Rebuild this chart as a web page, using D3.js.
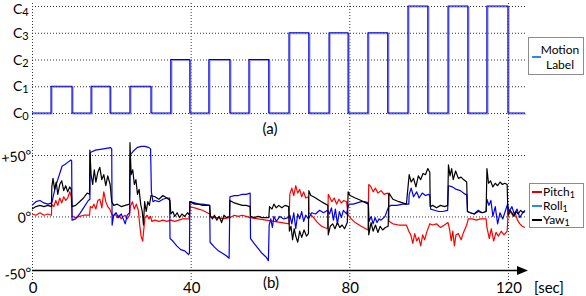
<!DOCTYPE html>
<meta charset="utf-8" />
<style>
  body { margin: 0; background: #fff; }
  svg text { font-family: Lato, "Open Sans", sans-serif; fill: #000; }
  .grid line { stroke: #333; stroke-width: 1; stroke-dasharray: 1,2; }
  .trace { fill: none; stroke-width: 1.2; stroke-linejoin: round; }
  .box { fill: #fff; stroke: #8c8c8c; stroke-width: 1; }
</style>
<svg width="586" height="296"></svg>
<script src="https://d3js.org/d3.v7.min.js"></script>
<script>
  /* global d3 */

  // motion label: step changes (seconds) and level index (C0..C4)
  var labelTimes = [0, 4.8, 10.1, 14.9, 19.7, 24.7, 30.0, 35.0, 39.8, 44.6, 49.9, 54.7, 59.7,
    64.8, 69.8, 74.9, 79.7, 84.7, 89.7, 94.8, 99.8, 104.9, 109.9, 114.7, 120.0, 124.3];
  var labelValues = [0, 1, 0, 1, 0, 1, 0, 2, 0, 2, 0, 2, 0, 3, 0, 3, 0, 3, 0, 4, 0, 4, 0, 4, 0, 0];
  var labelNames = ["0", "1", "2", "3", "4"];

  // IMU angles in degrees, [t, value]
  var pitch = [[0,2],[1,1],[2,3],[3,1],[4,2],[4.9,1],[5,10],[5.5,8],[6,13],[6.5,9],[7,15],[7.5,11],[8,16],[8.5,13],[9,15],[9.5,20],[9.9,16],
    [10.1,0],[11,-1],[12,0],[13,1],[14.5,1],[14.7,8],[15.2,7],[15.6,10],[16.1,6],[16.6,13],[17.1,14],[17.6,7],[18.1,20],[18.6,12],[19.1,8],[19.6,6],
    [20.1,2],[20.5,0],[21,2],[21.5,-1],[22,1],[22.5,-2],[23,0],[23.5,1],[24,-2],[24.6,1],[24.8,8],[25.3,12],[25.8,6],[26.3,10],[26.8,5],[27.2,-8],
    [27.5,-16],[27.9,-20],[28.2,-10],[28.5,-1],[29,1],[29.5,-2],[29.9,0],[30.2,-4],[31,-3],[32,-4],[33,-3],[34,-4],[35,-3],[36,-4],[37,-3],[38,-2],
    [39.7,-2],[39.8,8],[41,7],[42,6],[43,5],[44.8,2],[45,0],[46,-1],[47,-1],[48,-2],[49.9,-1],[51,1],[52,0],[53,1],[54,0],[55,-1],[57,-2],[59,-3],
    [61,-4],[63,-5],[64.8,-6],[65,18],[65.5,23],[66,17],[66.5,25],[67,19],[67.5,22],[68,16],[68.5,20],[69,15],[69.7,16],[69.8,3],[71,-1],[72,-5],
    [73,-8],[74.5,-10],[74.7,18],[75,16],[75.6,12],[76.2,15],[76.8,10],[77.4,14],[78,11],[78.6,13],[79.3,12],[79.7,1],[80.5,-2],[81.5,-5],[83,-8],
    [84.7,-11],[84.9,26],[85.5,24],[86,20],[86.6,23],[87.2,19],[88,21],[88.8,18],[89.6,19],[89.9,18],[90,-4],[91,-6],[92.5,-7],[94.4,-7],[95,-12],
    [95.5,-15],[96,-22],[96.5,-14],[97,-20],[97.5,-17],[98,-24],[98.5,-15],[99,-19],[99.5,-13],[100.3,-6],[101,-7],[102,-6],[103,-9],[104,-7],
    [104.9,-5],[105.3,-11],[105.7,-20],[106.1,-12],[106.5,-24],[106.9,-15],[107.5,-14],[108.2,-19],[108.8,-13],[109.6,-7],[110,-2],[111,-2],[112,-3],
    [113,-2],[114.5,-2],[114.7,-9],[115.3,-18],[115.8,-10],[116.4,-20],[117,-13],[117.6,-16],[118.3,-12],[119,-15],[119.8,-12],[120,0],[120.6,4],
    [121.2,1],[121.8,3],[122.4,-3],[123,-6],[123.6,-8],[124.3,-9]];

  var roll = [[0,9],[1,12],[2,13],[3,11],[4,10],[5,11],[5.4,17],[6,25],[6.6,31],[7.3,38],[7.6,41],[8.2,42],[9,44],[9.8,46],[10,45],[10.1,-3],[11,-2],
    [12,2],[13,7],[14.2,13],[14.6,14],[14.7,52],[16,54],[18,55],[19.8,56],[20.1,55],[20.2,-7],[20.6,1],[21.2,3],[21.8,-1],[22.5,2],[23,-2],[23.5,-6],
    [24,1],[24.6,3],[24.8,50],[25.5,53],[26.5,56],[27.5,57],[28.5,57],[29.5,56],[29.9,55],[30.1,20],[30.5,12],[31,13],[32,12],[33,14],[34,15],
    [34.7,15],[34.8,-18],[35.5,-20],[36.5,-24],[37.5,-27],[38.5,-28],[39.5,-31],[39.7,-30],[39.8,12],[41,11],[42,10],[43,10],[44.8,9],[44.9,-21],
    [46,-25],[47,-28],[48,-30],[49,-32],[49.7,-34],[49.9,16],[51,17],[52,17],[53,18],[54,18],[55,19],[55.1,-18],[56,-22],[57,-26],[58,-30],[59,-33],
    [59.6,-36],[59.8,-7],[60.2,-2],[60.6,-9],[61,0],[61.6,-4],[62.5,0],[63.5,-2],[64.6,-1],[65,1],[65.5,-6],[66,3],[66.5,-10],[67,2],[67.5,-2],[68,4],
    [68.5,-4],[69,1],[69.7,-2],[70.5,3],[71.5,2],[72.5,5],[73.5,3],[74.5,5],[75,2],[75.5,7],[76,-3],[76.5,6],[77,-6],[77.5,4],[78,-1],[78.5,5],
    [79.3,2],[79.7,8],[80,10],[81,10],[82,11],[83,12],[84,12],[84.8,11],[85,-4],[85.5,0],[86,-6],[86.5,-1],[87,-5],[87.5,-2],[88,-3],[89,0],
    [89.9,8],[90.5,9],[92,9],[93.5,10],[95,10],[95.1,18],[95.6,23],[96.2,16],[97,20],[97.6,15],[98.4,19],[99.2,17],[100,18],[100.3,17],[100.5,6],
    [101.5,5],[102.5,4],[103.5,4],[104.8,5],[105,25],[106,24],[107,22],[108,21],[109.2,18],[109.6,18],[109.8,4],[110.5,3],[111.5,2],[112.5,5],
    [113.5,3],[114.5,4],[114.7,14],[115.2,9],[115.7,13],[116.2,0],[116.8,8],[117.4,-6],[118,3],[118.7,-2],[119.4,5],[119.9,10],[120.3,4],[121,8],
    [121.6,2],[122.3,6],[123,-1],[123.7,3],[124.3,5]];

  var yaw = [[0,6],[1,8],[2,9],[3,8],[4,9],[4.9,8],[5,24],[5.3,31],[5.7,22],[6.1,28],[6.5,18],[7,26],[7.5,29],[8,21],[8.5,25],[9,20],[9.5,24],
    [9.9,22],[10.1,8],[11,9],[12,12],[13,15],[13.9,19],[14.5,18],[14.6,54],[14.9,34],[15.3,26],[15.7,38],[16.1,28],[16.6,36],[17.1,40],[17.6,30],
    [18.1,34],[18.6,25],[19.1,33],[19.7,26],[20.1,12],[20.6,9],[21.5,10],[22.5,8],[23.5,9],[24.6,10],[24.7,60],[25,34],[25.4,38],[25.8,26],[26.2,30],
    [26.6,18],[27,22],[27.4,10],[27.8,4],[28.1,-7],[28.4,12],[28.8,4],[29.2,12],[29.6,9],[30,17],[31,16],[32,14],[33,17],[34,15],[34.8,13],[35,2],
    [35.5,4],[36,0],[36.6,3],[37.2,-1],[37.8,2],[38.5,0],[39.2,3],[39.7,1],[39.8,12],[41,10],[42,10],[43,9],[44.8,9],[45,0],[45.5,-2],[46,1],
    [46.6,-3],[47.2,0],[47.8,-5],[48.4,1],[49,-1],[49.8,0],[49.9,13],[51,11],[52,10],[53,9],[54,9],[55,8],[55.1,0],[56,-1],[57,0],[58,-1],[59.7,-1],
    [59.9,8],[60.5,6],[61,10],[61.6,7],[62.2,9],[63,7],[63.8,9],[64.7,8],[64.9,-12],[65.3,-8],[65.7,-19],[66.1,-10],[66.5,-16],[67,-21],[67.5,-12],
    [68,-17],[68.6,-11],[69.2,-16],[69.7,-14],[69.8,21],[70.3,17],[71,16],[72,14],[73,12],[74.6,9],[74.7,-15],[75.2,-8],[75.8,-6],[76.4,-10],[77,-5],
    [77.6,-9],[78.2,-7],[78.8,-10],[79.5,-5],[79.7,20],[80.2,17],[81.5,15],[83,13],[84.8,10],[84.9,-15],[85.5,-5],[86,-12],[86.6,-7],[87.2,-13],
    [87.8,-8],[88.4,-11],[89.1,-9],[89.8,-8],[90,19],[91,14],[92.5,12],[94.4,10],[95.1,34],[95.6,28],[96.2,31],[96.8,24],[97.4,33],[98,30],[98.6,35],
    [99.2,34],[99.8,39],[100.3,36],[100.4,8],[101,9],[102,7],[103,9],[104,8],[104.8,9],[105,42],[105.4,33],[105.8,39],[106.2,30],[106.8,37],
    [107.5,31],[108.2,32],[108.8,30],[109.6,28],[109.8,4],[110.5,3],[111.5,2],[112.5,4],[113.5,3],[114.5,4],[114.7,39],[115.1,27],[115.6,29],
    [116.2,24],[116.8,27],[117.4,25],[118,28],[118.6,26],[119.2,27],[119.8,26],[120,1],[120.5,5],[121,3],[121.5,0],[122,4],[122.6,2],[123.2,5],
    [123.8,3],[124.3,4]];

  var xTicks = [0, 40, 80, 120];
  var angleTicks = [50, 0];
  var angleTickText = ["+50°", "0°"];

  var svg = d3.select("svg");

  var x = d3.scaleLinear().domain([0, 124.3]).range([32, 525]);
  var yTop = d3.scaleLinear().domain([0, 4]).range([113, 6]);
  var yBot = d3.scaleLinear().domain([-44, 50]).range([270.5, 155]);

  // grid
  var grid = svg.append("g").attr("class", "grid");
  grid.selectAll("line.v").data(xTicks).enter().append("line")
    .attr("x1", function (d) { return x(d) + 0.5; })
    .attr("x2", function (d) { return x(d) + 0.5; })
    .attr("y1", 3).attr("y2", 281);
  grid.selectAll("line.ht").data(labelNames).enter().append("line")
    .attr("x1", x(0)).attr("x2", x(124.3))
    .attr("y1", function (d, i) { return yTop(i) + 0.5; })
    .attr("y2", function (d, i) { return yTop(i) + 0.5; });
  grid.selectAll("line.hb").data(angleTicks).enter().append("line")
    .attr("x1", x(0)).attr("x2", x(124.3))
    .attr("y1", function (d) { return yBot(d) + 0.5; })
    .attr("y2", function (d) { return yBot(d) + 0.5; });

  // top panel: motion label step line
  var stepData = labelTimes.map(function (t, i) { return [t, labelValues[i]]; });
  var stepLine = d3.line()
    .x(function (d) { return x(d[0]); })
    .y(function (d) { return yTop(d[1]); })
    .curve(d3.curveStepAfter);
  svg.append("path").datum(stepData).attr("class", "trace")
    .attr("transform", "translate(1,1)")
    .attr("stroke", "#8f8fff").attr("stroke-width", 1.6).attr("d", stepLine);
  svg.append("path").datum(stepData).attr("class", "trace")
    .attr("stroke", "#0000d4").attr("stroke-width", 1.5).attr("d", stepLine);

  // top y labels C0..C4 (top one kept inside the picture)
  var cl = svg.append("g").selectAll("text").data(labelNames).enter().append("text")
    .attr("x", 13)
    .attr("y", function (d, i) { return Math.max(yTop(i) + 5, 14); })
    .style("font-size", "14px");
  cl.append("tspan").text("C");
  cl.append("tspan").attr("dy", 2).style("font-size", "11px").text(function (d) { return d; });

  svg.append("text").attr("x", 270).attr("y", 134).attr("text-anchor", "middle")
    .style("font-size", "15px").text("(a)");

  // bottom panel traces
  var angLine = d3.line()
    .x(function (d) { return x(d[0]); })
    .y(function (d) { return yBot(d[1]); });
  var series = [
    { name: "Pitch", data: pitch, color: "#ff0000", legend: "#e00000" },
    { name: "Roll", data: roll, color: "#0000ee", legend: "#2f8ad8" },
    { name: "Yaw", data: yaw, color: "#000000", legend: "#000000" }
  ];
  svg.append("g").selectAll("path").data(series).enter().append("path")
    .attr("class", "trace")
    .attr("stroke", function (d) { return d.color; })
    .attr("d", function (d) { return angLine(d.data); });

  // x axis with arrow
  svg.append("line").attr("x1", x(0)).attr("x2", 517)
    .attr("y1", yBot(-44)).attr("y2", yBot(-44))
    .attr("stroke", "#000").attr("stroke-width", 1.3);
  svg.append("path")
    .attr("d", "M517," + (yBot(-44) - 4.5) + "L528," + yBot(-44) + "L517," + (yBot(-44) + 4.5) + "Z")
    .attr("fill", "#000");

  svg.append("g").selectAll("text").data(xTicks).enter().append("text")
    .attr("x", function (d) { return x(d) + 1; })
    .attr("y", 293).attr("text-anchor", "middle")
    .style("font-size", "15px")
    .text(function (d) { return d; });
  svg.append("text").attr("x", 549).attr("y", 293).attr("text-anchor", "middle")
    .style("font-size", "15px").text("[sec]");

  // bottom y labels
  var yl = angleTicks.map(function (d, i) { return { y: yBot(d), t: angleTickText[i] }; });
  yl.push({ y: yBot(-44) + 2, t: "-50°" });
  svg.append("g").selectAll("text").data(yl).enter().append("text")
    .attr("text-anchor", "end")
    .attr("transform", function (d) { return "translate(32," + (d.y + 5) + ") rotate(-6)"; })
    .style("font-size", "14px")
    .text(function (d) { return d.t; });

  svg.append("text").attr("x", 271).attr("y", 288).attr("text-anchor", "middle")
    .style("font-size", "15px").text("(b)");

  // legend: motion label
  svg.append("rect").attr("class", "box").attr("x", 528.5).attr("y", 37.5).attr("width", 55).attr("height", 37);
  svg.append("line").attr("x1", 532).attr("x2", 541).attr("y1", 57).attr("y2", 57)
    .attr("stroke", "#2f8ad8").attr("stroke-width", 2);
  svg.append("text").attr("x", 560).attr("y", 54).attr("text-anchor", "middle")
    .style("font-size", "12px").text("Motion");
  svg.append("text").attr("x", 560).attr("y", 69).attr("text-anchor", "middle")
    .style("font-size", "12px").text("Label");

  // legend: angles
  svg.append("rect").attr("class", "box").attr("x", 529.5).attr("y", 183.5).attr("width", 54).attr("height", 44);
  var lg = svg.append("g").selectAll("g").data(series).enter().append("g")
    .attr("transform", function (d, i) { return "translate(0," + (192 + i * 14) + ")"; });
  lg.append("line").attr("x1", 532).attr("x2", 542).attr("y1", 0).attr("y2", 0)
    .attr("stroke", function (d) { return d.legend; }).attr("stroke-width", 2);
  var lt = lg.append("text").attr("x", 543).attr("y", 4).style("font-size", "12px");
  lt.append("tspan").text(function (d) { return d.name; });
  lt.append("tspan").attr("dy", 2).style("font-size", "9px").text("1");
</script>
